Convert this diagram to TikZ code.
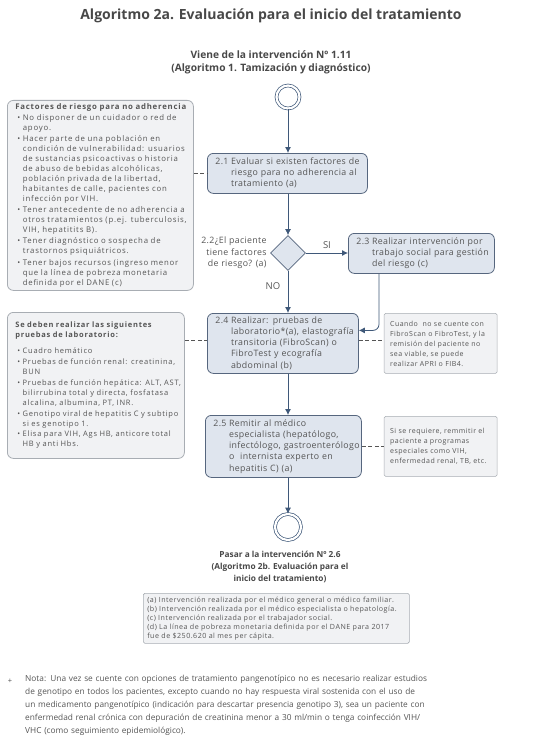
\documentclass[tikz,border=0pt]{standalone}
\usepackage{fontspec}
\setmainfont{Open Sans}
\newfontfamily\boxfont[LetterSpace=4]{Open Sans}
\newfontfamily\notefont[LetterSpace=7]{Open Sans}
\newfontfamily\sidefont[LetterSpace=10]{Open Sans}
\usetikzlibrary{shapes.geometric,arrows.meta,positioning,calc}
\definecolor{flowblue}{HTML}{3F5879}
\definecolor{boxfill}{HTML}{DFE5EE}
\definecolor{boxdraw}{HTML}{56667E}
\definecolor{notefill}{HTML}{F1F2F4}
\definecolor{notedraw}{HTML}{A8ADB3}
\definecolor{txtgray}{HTML}{555555}
\definecolor{headgray}{HTML}{484848}
\newcommand{\paso}[2]{\begin{tabular}[t]{@{}l@{\hspace{2.5pt}}l@{}}#1&\begin{tabular}[t]{@{}l@{}}#2\end{tabular}\end{tabular}}
\newcommand{\linea}[1]{\makebox[510pt][s]{#1}}

\begin{document}
\begin{tikzpicture}[x=1pt, y=-1pt,
    every node/.style={text=txtgray},
    proc_block/.style={rectangle, draw=boxdraw, fill=boxfill, line width=0.8pt, rounded corners=6pt, anchor=north west, inner xsep=8pt, inner ysep=0pt, align=left, font=\boxfont\fontsize{8.8}{11.3}\selectfont},
    note_block/.style={rectangle, draw=notedraw, fill=notefill, line width=0.6pt, rounded corners=1.5pt, inner xsep=6pt, inner ysep=0pt, align=left, font=\notefont\fontsize{7}{10}\selectfont},
    side_block/.style={rectangle, draw=notedraw, fill=notefill, line width=0.8pt, rounded corners=6pt, anchor=north west, inner xsep=10pt, inner ysep=0pt, align=left, font=\sidefont\fontsize{7.8}{9.9}\selectfont},
    dec_diamond/.style={diamond, aspect=1, draw=boxdraw, fill=boxfill, line width=0.8pt, minimum size=35pt, inner sep=0pt},
    end_circle/.style={circle, draw=flowblue, line width=0.7pt, double=white, double distance=2.2pt, minimum size=23pt, inner sep=0pt},
    head_text/.style={font=\fontsize{8.3}{11.8}\selectfont\bfseries, text=headgray, align=center},
    line/.style={draw=flowblue, line width=0.8pt, -{Latex[length=6pt,width=6pt]}},
    dash_line/.style={draw=txtgray, line width=0.6pt, dash pattern=on 4pt off 2.5pt}
]
\useasboundingbox[fill=white] (0,0) rectangle (542,741);

% Titles
\node[font=\fontsize{14}{16}\selectfont\bfseries, text=headgray] (titulo) at (271,16) {Algoritmo 2a. Evaluación para el inicio del tratamiento};
\node[head_text, font=\fontsize{10.2}{13}\selectfont\bfseries] (viene) at (271,62) {Viene de la intervención Nº 1.11\\(Algoritmo 1. Tamización y diagnóstico)};

% Main column
\node[end_circle] (inicio) at (288,97) {};
\node[proc_block, text width=144pt, minimum height=40pt] (p21) at (207,153) {\paso{2.1}{Evaluar si existen factores de\\riesgo para no adherencia al\\tratamiento (a)}};
\node[dec_diamond] (d22) at (288,253) {};
\node[anchor=east, align=right, font=\boxfont\fontsize{8.8}{11.3}\selectfont] (l22) at (d22.west) {2.2¿El paciente\\tiene factores\\de riesgo? (a)};
\node[proc_block, text width=130pt, minimum height=40pt] (p23) at (348,233) {\paso{2.3}{Realizar intervención por\\trabajo social para gestión\\del riesgo (c)}};
\node[proc_block, text width=135pt, minimum height=60pt] (p24) at (207,313) {\paso{2.4}{Realizar: pruebas de\\laboratorio*(a), elastografía\\transitoria (FibroScan) o\\FibroTest y ecografía\\abdominal (b)}};
\node[proc_block, text width=140pt, minimum height=62pt] (p25) at (205,415) {\paso{2.5}{Remitir al médico\\especialista (hepatólogo,\\infectólogo, gastroenterólogo\\o\ \ internista experto en\\hepatitis C) (a)}};
\node[end_circle, minimum size=26pt] (fin) at (288,527) {};
\node[head_text, anchor=north] (pasar) at (280,548) {Pasar a la intervención Nº 2.6\\(Algoritmo 2b. Evaluación para el\\inicio del tratamiento)};

% Notes on the right
\node[note_block, text width=101pt, minimum height=60pt, right=25pt of p24] (n24) {Cuando\ \ no se cuente con\\FibroScan o FibroTest, y la\\remisión del paciente no\\sea viable, se puede\\realizar APRI o FIB4.};
\node[note_block, text width=101pt, minimum height=60pt, right=22pt of p25] (n25) {Si se requiere, remmitir el\\paciente a programas\\especiales como VIH,\\enfermedad renal, TB, etc.};

% Side boxes on the left
\node[side_block, text width=166pt, minimum height=190pt] (s1) at (7,100) {%
\begin{tabular}{@{}l@{\hspace{2.5pt}}l@{}}
\multicolumn{2}{@{}l@{}}{\hspace{-2pt}\textbf{Factores de riesgo para no adherencia}}\\[1pt]
• & No disponer de un cuidador o red de\\
  & apoyo.\\[1.5pt]
• & Hacer parte de una población en\\
  & condición de vulnerabilidad: usuarios\\
  & de sustancias psicoactivas o historia\\
  & de abuso de bebidas alcohólicas,\\
  & población privada de la libertad,\\
  & habitantes de calle, pacientes con\\
  & infección por VIH.\\[1.5pt]
• & Tener antecedente de no adherencia a\\
  & otros tratamientos (p.ej. tuberculosis,\\
  & VIH, hepatitits B).\\[1.5pt]
• & Tener diagnóstico o sospecha de\\
  & trastornos psiquiátricos.\\[1.5pt]
• & Tener bajos recursos (ingreso menor\\
  & que la línea de pobreza monetaria\\
  & definida por el DANE (c)
\end{tabular}};
\node[side_block, text width=157pt, minimum height=146pt, font=\sidefont\fontsize{7.5}{9.9}\selectfont] (s2) at (7,312) {%
\begin{tabular}{@{}l@{\hspace{2.5pt}}l@{}}
\multicolumn{2}{@{}l@{}}{\hspace{-2pt}\textbf{Se deben realizar las siguientes}}\\
\multicolumn{2}{@{}l@{}}{\hspace{-2pt}\textbf{pruebas de laboratorio:}}\\[6pt]
• & Cuadro hemático\\[1pt]
• & Pruebas de función renal: creatinina,\\
  & BUN\\[1pt]
• & Pruebas de función hepática: ALT, AST,\\
  & bilirrubina total y directa, fosfatasa\\
  & alcalina, albumina, PT, INR.\\[1pt]
• & Genotipo viral de hepatitis C y subtipo\\
  & si es genotipo 1.\\[1pt]
• & Elisa para VIH, Ags HB, anticore total\\
  & HB y anti Hbs.
\end{tabular}};

% Legend and footnote
\node[note_block, anchor=north west, inner xsep=4pt, text width=258pt, minimum height=50pt, font=\notefont\fontsize{7.1}{9}\selectfont] (leyenda) at (143,593) {\mbox{(a) Intervención realizada por el médico general o médico familiar.}\\\mbox{(b) Intervención realizada por el médico especialista o hepatología.}\\(c) Intervención realizada por el trabajador social.\\(d) La línea de pobreza monetaria definida por el DANE para 2017\\fue de \$250.620 al mes per cápita.};
\node[font=\fontsize{7.5}{8}\selectfont] (mas) at (10,681) {+};
\node[anchor=north west, inner sep=0pt, text width=510pt, align=left, font=\fontsize{8.3}{13}\selectfont] (nota) at (25,675) {\linea{Nota: Una vez se cuente con opciones de tratamiento pangenotípico no es necesario realizar estudios}\\\linea{de genotipo en todos los pacientes, excepto cuando no hay respuesta viral sostenida con el uso de}\\\linea{un medicamento pangenotípico (indicación para descartar presencia genotipo 3), sea un paciente con}\\\linea{enfermedad renal crónica con depuración de creatinina menor a 30 ml/min o tenga coinfección VIH/}\\VHC (como seguimiento epidemiológico).};

% Connections
\path[line] (inicio) -- (inicio |- p21.north);
\path[line] (p21.south -| inicio) -- (d22.north);
\path[line] (d22.east) -- node[above=1pt, font=\fontsize{9.5}{10}\selectfont] {SI} (d22.east -| p23.west);
\path[line] (d22.south) -- node[pos=0.35, left=4pt, font=\fontsize{9.5}{10}\selectfont] {NO} (d22.south |- p24.north);
\path[line, rounded corners=6pt] ([xshift=31pt]p23.south west) |- ([yshift=13pt]p24.east);
\path[line] (p24.south -| inicio) -- (p25.north -| inicio);
\path[line] (p25.south -| inicio) -- (fin.north);
\path[dash_line] (p21.west -| s1.east) -- (p21.west);
\path[dash_line] ([yshift=3pt]p24.west -| s2.east) -- ([yshift=3pt]p24.west);
\path[dash_line] ([yshift=3pt]p24.east) -- ([yshift=3pt]p24.east -| n24.west);
\path[dash_line] (p25.east) -- (p25.east -| n25.west);

\end{tikzpicture}
\end{document}
